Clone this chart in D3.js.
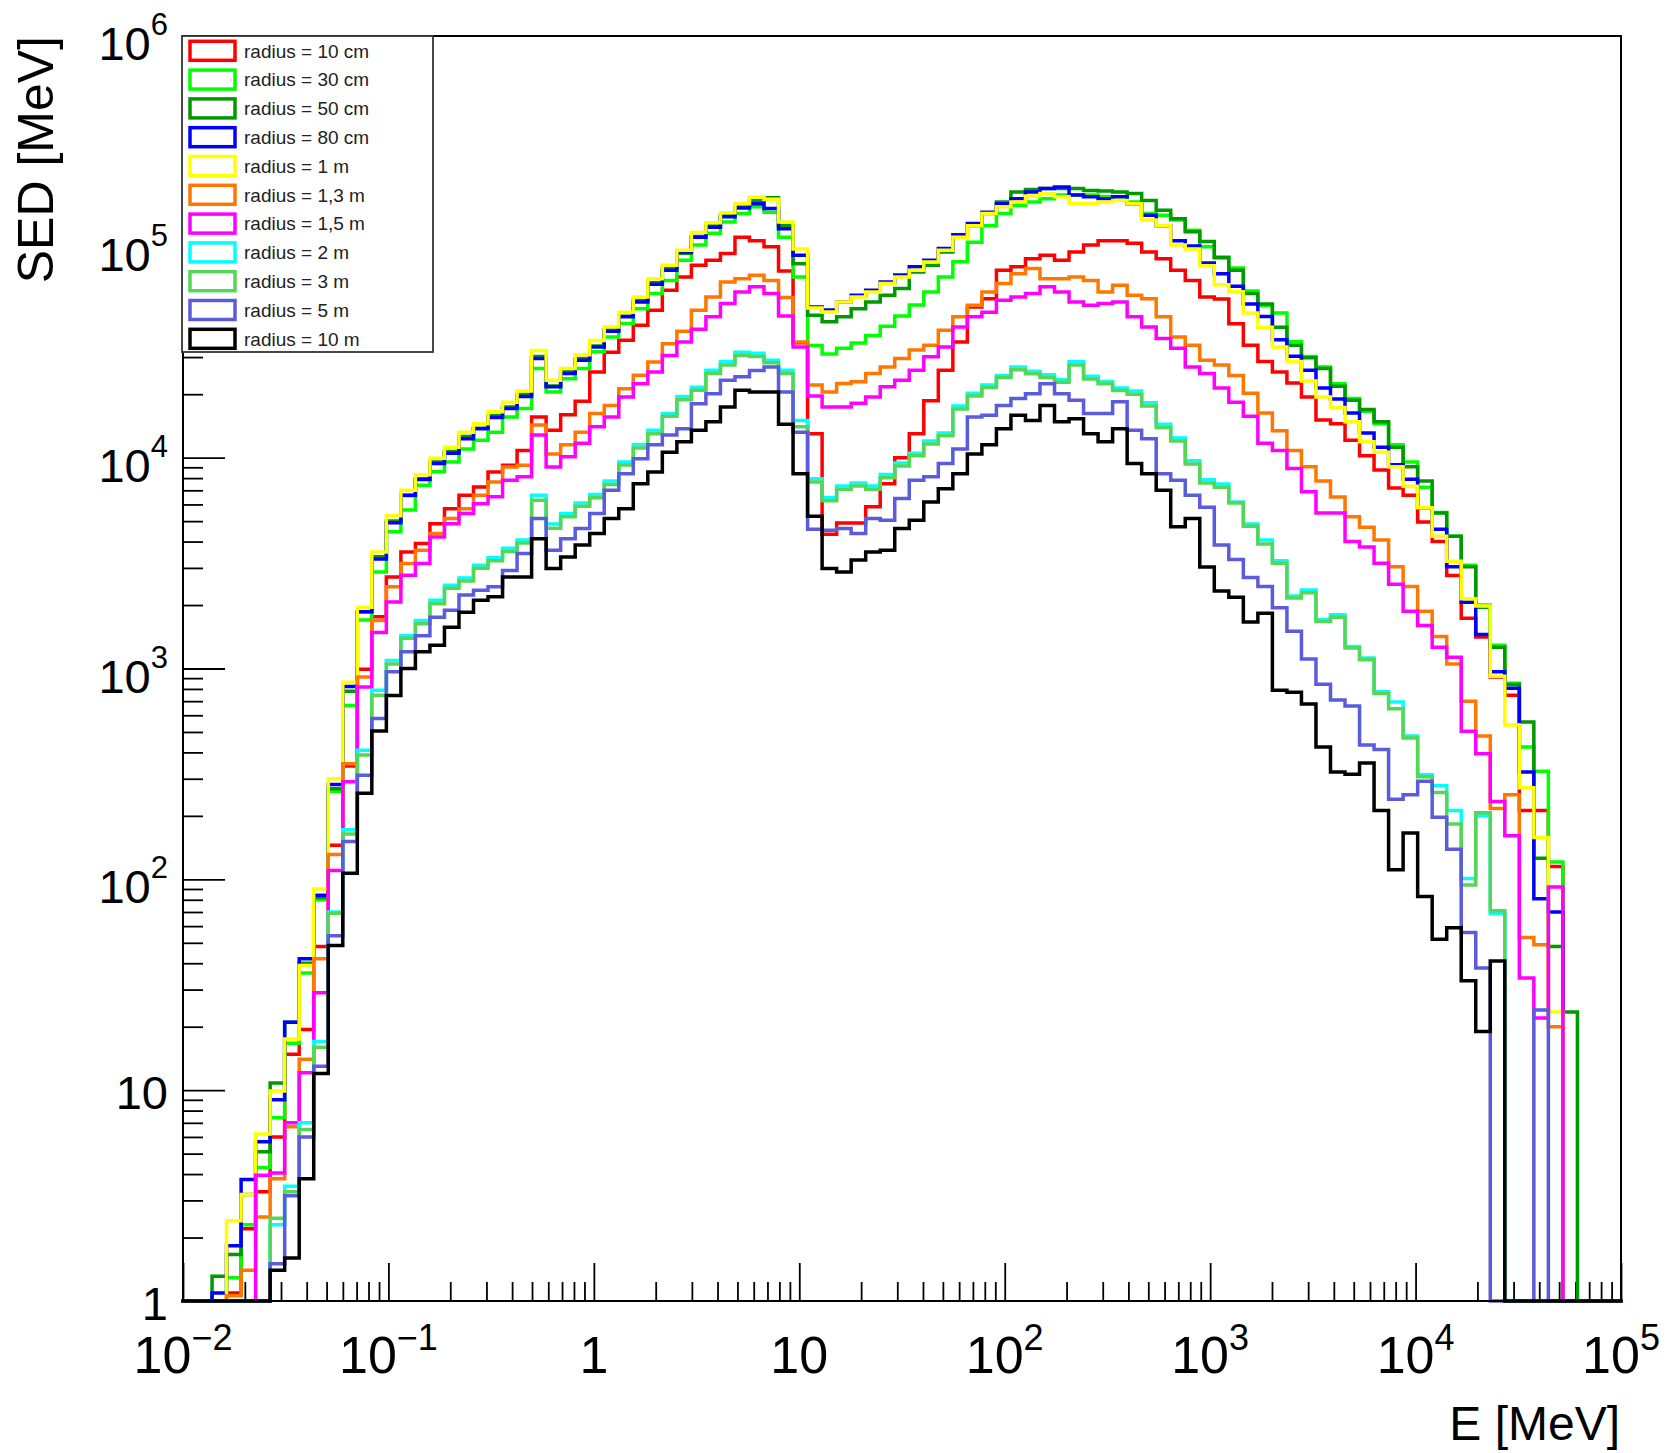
<!DOCTYPE html>
<html><head><meta charset="utf-8">
<script src="https://cdn.jsdelivr.net/npm/d3@7"></script>
<style>
body{margin:0;background:#fff}
svg{display:block}
text{font-family:"Liberation Sans",Arial,Helvetica,sans-serif}
</style>
</head><body>
<svg id="chart" width="1668" height="1453"></svg>
<script>
// ---- Histogram binning: 99 log-spaced bins from 1e-2 to 1e5 MeV ----
const nBins = 99, logEmin = -2, logEmax = 5;

// ---- Series (SED per bin, MeV) ----
const r10cm = [0,0,0,1.09,2.2,3.3,6,14.8,19.4,48,145,345,
993,1760,2720,3570,3920,4860,5730,6640,7260,8550,
9200,1.08e4,1.56e4,1.35e4,1.60e4,1.85e4,2.55e4,3.16e4,3.61e4,4.25e4,
5.0e4,6.22e4,7.19e4,8.18e4,8.63e4,9.29e4,1.11e5,1.07e5,1.0e5,7.67e4,
3.51e4,1.30e4,4330,4900,4900,5850,7530,1.0e4,1.30e4,1.86e4,
2.6e4,3.54e4,5.19e4,5.68e4,7.74e4,8.04e4,8.79e4,9.12e4,8.63e4,9.46e4,
1.02e5,1.07e5,1.07e5,1.04e5,9.46e4,8.79e4,7.74e4,6.92e4,5.78e4,5.66e4,
4.32e4,3.41e4,2.86e4,2.55e4,2.26e4,1.94e4,1.51e4,1.45e4,1.21e4,1.02e4,
8730,7180,6640,4950,4000,2760,1730,1410,912,746,
212,212,115,0,0,0,0];

const r30cm = [0,0,0,1.29,2.3,4.3,7.4,16.7,36,80,262,667,
1700,2870,4450,5640,7400,8570,9550,1.10e4,1.21e4,1.32e4,
1.56e4,1.71e4,2.65e4,2.05e4,2.37e4,2.65e4,3.18e4,3.74e4,4.33e4,5.09e4,
6.0e4,6.93e4,8.63e4,1.02e5,1.16e5,1.31e5,1.44e5,1.55e5,1.46e5,1.11e5,
7.19e4,3.4e4,3.1e4,3.3e4,3.5e4,3.8e4,4.2e4,4.7e4,5.3e4,6.1e4,
7.2e4,8.5e4,1.05e5,1.26e5,1.44e5,1.57e5,1.63e5,1.69e5,1.76e5,1.76e5,
1.76e5,1.73e5,1.73e5,1.63e5,1.44e5,1.41e5,1.34e5,1.20e5,1.0e5,8.95e4,
7.94e4,6.17e4,5.25e4,4.85e4,3.55e4,3.02e4,2.69e4,2.24e4,1.91e4,1.66e4,
1.45e4,1.15e4,9550,7240,5500,4240,3090,2000,1290,851,
424,326,121,0,0,0,0];

const r50cm = [0,0,1.31,1.66,3.2,5.1,10.8,21,40,82,269,780,
1860,3390,5010,6610,7940,9550,1.07e4,1.26e4,1.38e4,1.58e4,
1.74e4,2.0e4,3.02e4,2.19e4,2.57e4,2.95e4,3.39e4,4.07e4,4.68e4,5.56e4,
6.76e4,7.94e4,9.33e4,1.12e5,1.26e5,1.41e5,1.55e5,1.66e5,1.71e5,1.26e5,
8.32e4,4.74e4,4.41e4,4.66e4,5.09e4,5.48e4,5.89e4,6.34e4,7.59e4,8.18e4,
9.46e4,1.11e5,1.26e5,1.44e5,1.63e5,1.82e5,1.87e5,1.89e5,1.89e5,1.89e5,
1.85e5,1.84e5,1.82e5,1.79e5,1.66e5,1.49e5,1.36e5,1.18e5,1.06e5,8.87e4,
7.74e4,6.01e4,5.35e4,4.15e4,3.41e4,2.98e4,2.65e4,2.18e4,1.87e4,1.69e4,
1.48e4,1.12e4,9060,7760,5460,4240,3040,1950,1260,839,
558,126,48,23.5,0,0,0];

const r80cm = [0,0,1.09,1.83,3.77,5.7,9.0,21,42,84,282,822,
1860,3310,4910,6640,7870,9380,1.05e4,1.23e4,1.37e4,1.55e4,
1.71e4,1.95e4,2.95e4,2.17e4,2.51e4,2.9e4,3.35e4,3.98e4,4.66e4,5.48e4,
6.64e4,7.74e4,9.46e4,1.11e5,1.24e5,1.39e5,1.53e5,1.60e5,1.52e5,1.22e5,
9.12e4,5.19e4,5.01e4,5.48e4,5.89e4,6.22e4,6.82e4,7.35e4,8.04e4,8.63e4,
9.82e4,1.14e5,1.29e5,1.46e5,1.60e5,1.69e5,1.82e5,1.89e5,1.92e5,1.76e5,
1.73e5,1.69e5,1.73e5,1.60e5,1.41e5,1.26e5,1.07e5,1.01e5,8.38e4,7.45e4,
6.5e4,5.35e4,4.67e4,3.62e4,3.03e4,2.6e4,2.14e4,1.9e4,1.63e4,1.31e4,
1.12e4,9250,7910,5790,4580,3040,2060,1450,964,805,
323,81,70,0,0,0,0];

const r1m = [0,0,0,2.4,3.2,6.2,9.9,17.5,39,90,300,860,
1950,3570,5310,7010,8300,9950,1.12e4,1.32e4,1.45e4,1.65e4,
1.83e4,2.07e4,3.22e4,2.33e4,2.65e4,3.08e4,3.6e4,4.17e4,4.9e4,5.78e4,
7.06e4,8.17e4,9.64e4,1.17e5,1.30e5,1.45e5,1.60e5,1.72e5,1.68e5,1.31e5,
9.77e4,5.13e4,4.91e4,5.48e4,5.78e4,6.11e4,6.7e4,7.19e4,7.74e4,8.47e4,
9.64e4,1.11e5,1.26e5,1.44e5,1.55e5,1.63e5,1.74e5,1.79e5,1.73e5,1.60e5,
1.60e5,1.63e5,1.66e5,1.60e5,1.34e5,1.26e5,1.02e5,9.77e4,8.13e4,6.61e4,
6.12e4,4.85e4,4.15e4,3.35e4,2.86e4,2.31e4,1.94e4,1.73e4,1.48e4,1.19e4,
1.06e4,9060,7310,5790,4240,3230,2140,1980,920,540,
272,158,23.5,0,0,0,0];

const r1_3m = [0,0,0,1.06,1.4,2.5,3.8,6.7,14,42,131,353,
912,1690,2440,3150,3640,4370,5140,5730,6640,7670,
9040,9200,1.43e4,1.04e4,1.15e4,1.32e4,1.62e4,1.77e4,2.12e4,2.46e4,
2.84e4,3.47e4,3.98e4,5.0e4,5.78e4,6.82e4,7.06e4,7.33e4,6.93e4,5.75e4,
3.54e4,2.21e4,2.05e4,2.25e4,2.29e4,2.51e4,2.69e4,2.95e4,3.24e4,3.41e4,
4.02e4,4.66e4,5.28e4,6.11e4,6.7e4,7.46e4,7.89e4,7.06e4,7.06e4,7.19e4,
6.93e4,6.11e4,6.58e4,5.89e4,5.68e4,4.66e4,3.74e4,3.41e4,2.9e4,2.75e4,
2.45e4,2.02e4,1.63e4,1.34e4,1.08e4,9060,7760,6500,5250,4680,
4070,3040,2450,1870,1420,1050,700,479,217,252,
53,49,20,0,0,0,0];

const r1_5m = [0,0,0,0,0,3.95,4.05,7.0,12.1,29,110,290,
818,1480,2070,2770,3150,4210,4860,5430,6050,6520,
7820,8110,1.28e4,9040,1.01e4,1.17e4,1.40e4,1.56e4,1.94e4,2.24e4,
2.55e4,3.05e4,3.54e4,4.07e4,4.66e4,5.38e4,6.11e4,6.46e4,6.0e4,4.7e4,
3.35e4,1.96e4,1.74e4,1.74e4,1.81e4,1.94e4,2.17e4,2.33e4,2.6e4,3.01e4,
3.35e4,4.17e4,4.66e4,4.9e4,5.58e4,5.78e4,6.0e4,6.46e4,6.11e4,5.48e4,
5.28e4,5.38e4,5.48e4,4.66e4,4.17e4,3.67e4,3.3e4,2.69e4,2.51e4,2.14e4,
1.83e4,1.57e4,1.17e4,1.08e4,8890,6900,5460,5460,4000,3770,
3160,2510,1870,1600,1260,1130,504,394,234,161,
34,22,92,0,0,0,0];

const r2m = [0,0,0,0,0,0,2.3,3.5,7,17,70,172,
410,789,1090,1430,1690,2110,2480,2690,3090,3350,
3720,4070,6640,4840,5430,6100,6680,7760,9550,1.15e4,
1.35e4,1.62e4,1.95e4,2.16e4,2.6e4,2.85e4,3.16e4,3.13e4,2.9e4,2.6e4,
1.5e4,7940,6460,7330,7590,7330,8320,9440,1.05e4,1.2e4,
1.31e4,1.76e4,2.02e4,2.21e4,2.45e4,2.69e4,2.57e4,2.47e4,2.34e4,2.85e4,
2.43e4,2.3e4,2.14e4,2.07e4,1.82e4,1.44e4,1.24e4,9660,7850,7500,
6170,4840,4070,3240,2210,2360,1710,1800,1270,1120,
776,693,479,313,278,212,101,200,69,0,
0,0,0,0,0,0,0];

const r3m = [0,0,0,0,0,0,2.47,3.3,6.5,16,69,164,
389,746,1050,1390,1630,2030,2400,2600,2990,3240,
3590,3940,6280,4620,5250,5890,6460,7450,9230,1.11e4,
1.3e4,1.57e4,1.88e4,2.09e4,2.51e4,2.75e4,3.05e4,3.02e4,2.82e4,2.51e4,
1.4e4,7670,6240,7080,7330,7080,8040,9120,1.02e4,1.16e4,
1.27e4,1.7e4,1.96e4,2.15e4,2.4e4,2.61e4,2.5e4,2.4e4,2.28e4,2.75e4,
2.36e4,2.24e4,2.08e4,2.0e4,1.76e4,1.39e4,1.2e4,9330,7590,7240,
6100,4730,3890,3160,2160,2290,1670,1750,1250,1100,
762,644,468,307,258,183,94,207,71,0,
0,0,0,0,0,0,0];

const r5m = [0,0,0,0,0,0,1.5,3.16,6.0,13,54,151,
312,579,964,1200,1430,1750,1890,2230,2350,2440,
2920,3510,5140,3640,4130,4610,5430,7010,8390,9890,
1.15e4,1.28e4,1.37e4,1.8e4,2.01e4,2.33e4,2.42e4,2.59e4,2.69e4,2.05e4,
1.32e4,4570,4530,4610,4370,5140,5050,6400,7820,8110,
9380,1.1e4,1.56e4,1.59e4,1.77e4,1.91e4,2.01e4,2.24e4,2.01e4,1.87e4,
1.62e4,1.62e4,1.84e4,1.35e4,1.23e4,8390,7820,6640,5820,3850,
3290,2700,2450,1940,1500,1110,841,708,664,434,
413,240,252,292,197,139,56,38,0,0,
0,24,0,0,0,0,0];

const r10m = [0,0,0,0,0,0,1.4,1.6,3.8,12,48.5,107,
256,505,745,1000,1200,1290,1570,1850,2110,2190,
2720,2720,4130,2980,3380,3850,4370,5140,5730,7530,
8550,1.06e4,1.19e4,1.35e4,1.48e4,1.74e4,2.09e4,2.05e4,2.05e4,1.44e4,
8390,5280,2980,2870,3270,3570,3640,4610,5050,6170,
7130,8390,1.04e4,1.15e4,1.37e4,1.59e4,1.5e4,1.77e4,1.48e4,1.53e4,
1.3e4,1.19e4,1.37e4,9380,8390,7000,4700,5140,3030,2330,
2180,1660,1830,789,771,678,424,323,315,356,
212,111,166,83,52,59,33,19,41,0,
0,0,0,0,0,0,0];

const seriesNames = ["radius = 10 cm","radius = 30 cm","radius = 50 cm","radius = 80 cm","radius = 1 m",
  "radius = 1,3 m","radius = 1,5 m","radius = 2 m","radius = 3 m","radius = 5 m","radius = 10 m"];
const seriesValues = [r10cm, r30cm, r50cm, r80cm, r1m, r1_3m, r1_5m, r2m, r3m, r5m, r10m];
const seriesColors = ["#ff0000","#00ff00","#009900","#0000ff","#ffff00","#ff7700","#ff00ff","#00ffff","#55d655","#5b5bdd","#000000"];

const xTickValues = [1e-2,1e-1,1,10,1e2,1e3,1e4,1e5];
const xTickLabels = [["10","\u22122"],["10","\u22121"],["1",""],["10",""],["10","2"],["10","3"],["10","4"],["10","5"]];
const yTickValues = [1,10,1e2,1e3,1e4,1e5,1e6];
const yTickLabels = [["1",""],["10",""],["10","2"],["10","3"],["10","4"],["10","5"],["10","6"]];

// ---- Layout ----
const X0 = 183, X1 = 1621, Y0 = 36, Y1 = 1301;
const svg = d3.select("#chart");
const x = d3.scaleLog().domain([1e-2, 1e5]).range([X0, X1]);
const y = d3.scaleLog().domain([1, 1e6]).range([Y1, Y0]).clamp(true);

const edges = d3.range(nBins + 1).map(i => Math.pow(10, logEmin + (logEmax - logEmin) * i / nBins));

function minorTicks(lo, hi) {
  const out = [];
  for (let k = lo; k < hi; k++) for (let m = 2; m <= 9; m++) out.push(m * Math.pow(10, k));
  return out;
}

// ticks (drawn inside the frame)
function styleAxis(s) {
  s.select(".domain").remove();
  s.selectAll(".tick line").attr("stroke", "#000").attr("stroke-width", 1.8);
  s.selectAll(".tick text").remove();
}
svg.append("g").attr("transform", `translate(0,${Y1})`)
  .call(d3.axisTop(x).tickValues(xTickValues).tickSize(38).tickFormat("")).call(styleAxis);
svg.append("g").attr("transform", `translate(0,${Y1})`)
  .call(d3.axisTop(x).tickValues(minorTicks(-2, 5)).tickSize(19).tickFormat("")).call(styleAxis);
svg.append("g").attr("transform", `translate(${X0},0)`)
  .call(d3.axisRight(y).tickValues(yTickValues).tickSize(42).tickFormat("")).call(styleAxis);
svg.append("g").attr("transform", `translate(${X0},0)`)
  .call(d3.axisRight(y).tickValues(minorTicks(0, 6)).tickSize(20).tickFormat("")).call(styleAxis);

// histograms
const line = d3.line()
  .x(d => x(d[0]))
  .y(d => y(Math.max(d[1], 1)))
  .curve(d3.curveStepAfter);

seriesValues.forEach((vals, si) => {
  const pts = edges.map((e, i) => [e, vals[Math.min(i, nBins - 1)]]);
  svg.append("path")
    .attr("d", line(pts))
    .attr("fill", "none")
    .attr("stroke", seriesColors[si])
    .attr("stroke-width", 3.5)
    .attr("stroke-linejoin", "miter")
    .attr("stroke-linecap", "square");
});

// frame
svg.append("rect").attr("x", X0).attr("y", Y0).attr("width", X1 - X0).attr("height", Y1 - Y0)
  .attr("fill", "none").attr("stroke", "#000").attr("stroke-width", 2);

// legend
const lg = svg.append("g");
lg.append("rect").attr("x", 182).attr("y", 36).attr("width", 251).attr("height", 316)
  .attr("fill", "#fff").attr("stroke", "#333").attr("stroke-width", 1.8);
seriesNames.forEach((name, i) => {
  const cy = 50.8 + i * 28.8;
  lg.append("rect").attr("x", 190).attr("y", cy - 9.5).attr("width", 45).attr("height", 19)
    .attr("fill", "#fff").attr("stroke", seriesColors[i]).attr("stroke-width", 3.5);
  lg.append("text").attr("x", 244).attr("y", cy + 6.8).attr("font-size", 19).attr("fill", "#222").text(name);
});

// x tick labels
xTickValues.forEach((v, i) => {
  const t = svg.append("text").attr("x", x(v)).attr("y", 1373).attr("text-anchor", "middle")
    .attr("font-size", 52).attr("fill", "#000");
  t.append("tspan").text(xTickLabels[i][0]);
  if (xTickLabels[i][1]) t.append("tspan").attr("dy", -23).attr("font-size", 36).text(xTickLabels[i][1]);
});

// y tick labels
yTickValues.forEach((v, i) => {
  const sup = yTickLabels[i][1];
  const t = svg.append("text").attr("x", 168).attr("y", y(v) + (sup ? 24 : 19)).attr("text-anchor", "end")
    .attr("font-size", 47).attr("fill", "#000");
  t.append("tspan").text(yTickLabels[i][0]);
  if (sup) t.append("tspan").attr("dy", -25).attr("font-size", 31).text(sup);
});

// axis titles
svg.append("text").attr("transform", "translate(53,36) rotate(-90)").attr("text-anchor", "end")
  .attr("font-size", 50).attr("fill", "#000").text("SED [MeV]");
svg.append("text").attr("x", 1620).attr("y", 1440).attr("text-anchor", "end")
  .attr("font-size", 48).attr("fill", "#000").text("E [MeV]");
</script>
</body></html>
